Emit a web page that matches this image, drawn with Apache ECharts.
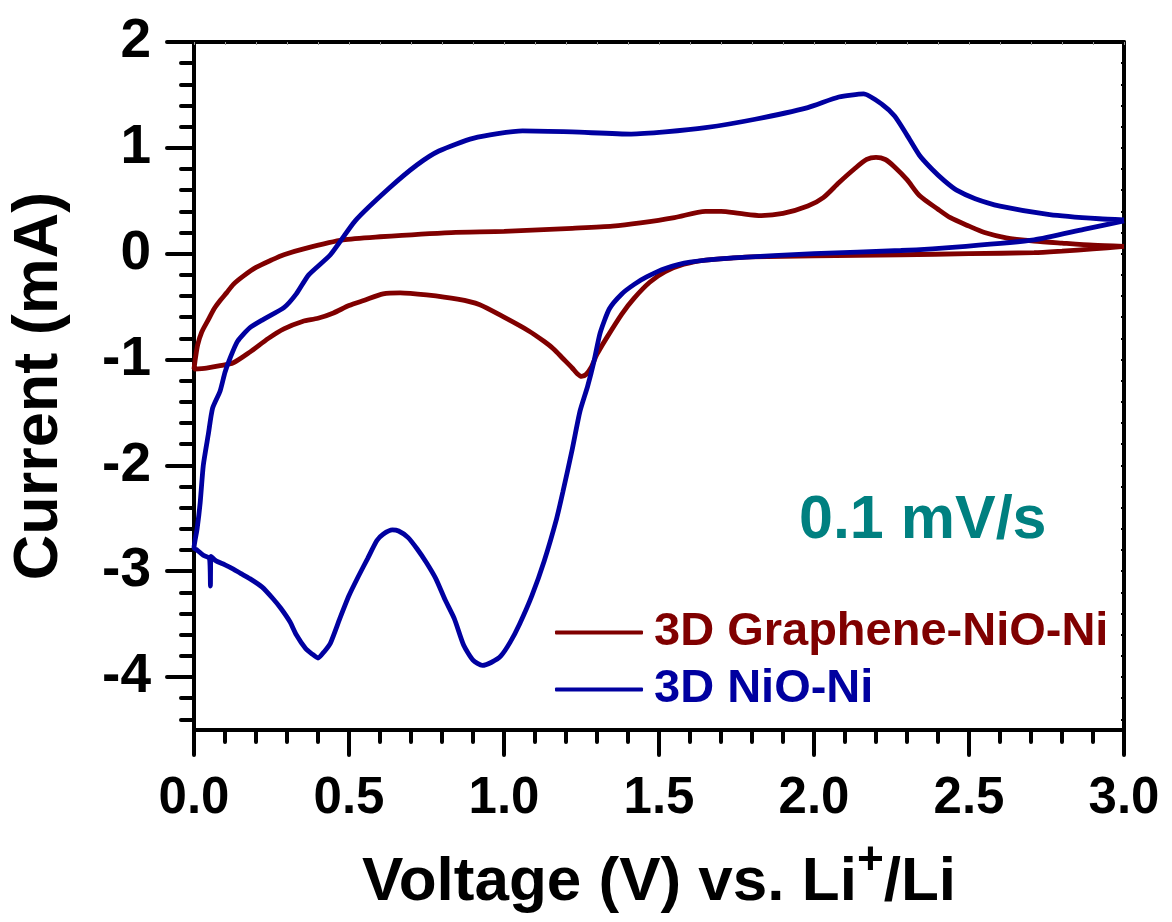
<!DOCTYPE html>
<html>
<head>
<meta charset="utf-8">
<script src="https://cdn.jsdelivr.net/npm/echarts@6/dist/echarts.min.js"></script>
<style>
    html, body { margin: 0; padding: 0; background: #fff; }
    #chart_cv { width: 1172px; height: 922px; }
</style>
</head>
<body>
<div id="chart_cv"></div>
<script>
/* datos: [voltaje (V), corriente (mA)] */
const grapheneCatodico = [
    [3.0, 0.07], [2.9, 0.045], [2.8, 0.025], [2.71, 0.01], [2.5, 0.0], [2.28, -0.01], [2.0, -0.02],
    [1.8, -0.03], [1.74, -0.04], [1.65, -0.06], [1.58, -0.1], [1.52, -0.17], [1.47, -0.27],
    [1.42, -0.42], [1.38, -0.57], [1.33, -0.8], [1.3, -0.95], [1.28, -1.08], [1.265, -1.14],
    [1.25, -1.16], [1.235, -1.13], [1.22, -1.08], [1.19, -0.99], [1.16, -0.9], [1.13, -0.83],
    [1.08, -0.73], [1.0, -0.6], [0.92, -0.48], [0.85, -0.43], [0.75, -0.39], [0.665, -0.37],
    [0.61, -0.38], [0.55, -0.44], [0.5, -0.49], [0.45, -0.56], [0.4, -0.61], [0.35, -0.64],
    [0.29, -0.71], [0.24, -0.8], [0.18, -0.93], [0.127, -1.03], [0.08, -1.06], [0.04, -1.08],
    [0.0, -1.09]
];
const grapheneAnodico = [
    [0.0, -1.09], [0.005, -0.98], [0.012, -0.86], [0.025, -0.74], [0.045, -0.63], [0.065, -0.52],
    [0.085, -0.44], [0.105, -0.37], [0.127, -0.29], [0.16, -0.21], [0.2, -0.13], [0.25, -0.06],
    [0.29, -0.01], [0.36, 0.05], [0.48, 0.13], [0.6, 0.16], [0.83, 0.2], [1.0, 0.21], [1.22, 0.24],
    [1.35, 0.26], [1.44, 0.29], [1.55, 0.34], [1.65, 0.4], [1.7, 0.4], [1.76, 0.38], [1.83, 0.36],
    [1.9, 0.38], [1.98, 0.45], [2.03, 0.53], [2.08, 0.67], [2.13, 0.8], [2.17, 0.89], [2.2, 0.91],
    [2.23, 0.89], [2.26, 0.82], [2.3, 0.7], [2.34, 0.55], [2.4, 0.42], [2.44, 0.34], [2.5, 0.26],
    [2.55, 0.2], [2.62, 0.15], [2.71, 0.12], [2.8, 0.1], [2.9, 0.08], [3.0, 0.07]
];
const nioCatodico = [
    [3.0, 0.31], [2.87, 0.23], [2.71, 0.13], [2.49, 0.07], [2.28, 0.03], [2.0, 0.0], [1.74, -0.04],
    [1.6, -0.08], [1.52, -0.14], [1.46, -0.22], [1.42, -0.29], [1.38, -0.38], [1.34, -0.52],
    [1.31, -0.75], [1.29, -1.02], [1.27, -1.25], [1.245, -1.49], [1.22, -1.85], [1.19, -2.25],
    [1.17, -2.5], [1.13, -2.9], [1.09, -3.23], [1.05, -3.5], [1.02, -3.67], [0.99, -3.8],
    [0.96, -3.86], [0.93, -3.89], [0.9, -3.84], [0.87, -3.7], [0.84, -3.45], [0.81, -3.27],
    [0.78, -3.07], [0.75, -2.92], [0.72, -2.79], [0.69, -2.68], [0.66, -2.62], [0.64, -2.61],
    [0.61, -2.65], [0.59, -2.71], [0.56, -2.88], [0.53, -3.05], [0.5, -3.23], [0.47, -3.45],
    [0.44, -3.68], [0.42, -3.76], [0.4, -3.82], [0.38, -3.78], [0.36, -3.73], [0.33, -3.6],
    [0.31, -3.48], [0.28, -3.35], [0.255, -3.26], [0.22, -3.15], [0.18, -3.07], [0.15, -3.02],
    [0.127, -2.98], [0.1, -2.94], [0.07, -2.9], [0.055, -2.86], [0.053, -3.14], [0.05, -2.88],
    [0.03, -2.85], [0.01, -2.8], [0.0, -2.78]
];
const nioAnodico = [
    [0.0, -2.78], [0.01, -2.6], [0.02, -2.35], [0.03, -2.0], [0.046, -1.71], [0.06, -1.46],
    [0.084, -1.3], [0.1, -1.12], [0.116, -0.99], [0.14, -0.83], [0.18, -0.7], [0.224, -0.62],
    [0.29, -0.51], [0.33, -0.38], [0.37, -0.2], [0.44, -0.01], [0.52, 0.31], [0.63, 0.62],
    [0.72, 0.84], [0.79, 0.97], [0.9, 1.09], [1.06, 1.16], [1.22, 1.15], [1.41, 1.13],
    [1.52, 1.15], [1.65, 1.19], [1.81, 1.27], [1.98, 1.38], [2.08, 1.48], [2.16, 1.51],
    [2.22, 1.41], [2.26, 1.3], [2.3, 1.12], [2.34, 0.93], [2.38, 0.8], [2.42, 0.69],
    [2.46, 0.6], [2.52, 0.52], [2.6, 0.45], [2.76, 0.37], [2.92, 0.33], [3.0, 0.32]
];

const nombres = ["3D Graphene-NiO-Ni", "3D NiO-Ni"];
const colores = ["#800000", "#0000A0"];

/* ticks del eje y: -4.5 a 2 cada 0.1 */
const yTicks = [];
for (let k = -45; k <= 20; k++) yTicks.push((k / 10).toFixed(1));

window.renderChartCv = function () {
    const div = document.getElementById("chart_cv");
    if (!div) return;

    const chart = echarts.init(div);
    const font = "Liberation Sans";
    const negro = "#000";

    const esEntero = (i, v) => Math.round(parseFloat(v) * 10) % 10 === 0;
    const esMenor = (i, v) => {
        const k = Math.round(parseFloat(v) * 10);
        return k % 2 === 0 && k % 10 !== 0;
    };

    const option = {
        animation: false,
        textStyle: { fontFamily: font },
        grid: { left: 194, right: 48, top: 42, bottom: 192, containLabel: false, outerBoundsMode: "none" },
        title: {
            text: "0.1 mV/s",
            left: 794,
            top: 486,
            textStyle: { color: "#008080", fontSize: 61, fontWeight: "bold", fontFamily: font }
        },
        legend: {
            orient: "vertical",
            left: 550,
            top: 604,
            itemWidth: 88,
            itemHeight: 4,
            itemGap: 10,
            icon: "roundRect",
            textStyle: { fontSize: 47, fontWeight: "bold", fontFamily: font, padding: [0, 0, 0, 6] },
            data: [
                { name: nombres[0], textStyle: { color: colores[0] } },
                { name: nombres[1], textStyle: { color: colores[1] } }
            ]
        },
        xAxis: [
            {
                type: "value", position: "bottom", min: 0, max: 3, interval: 0.5,
                axisLine: { onZero: false, lineStyle: { color: negro, width: 4 } },
                axisTick: { length: 25, lineStyle: { color: negro, width: 4, cap: "round" } },
                minorTick: { show: true, splitNumber: 5, length: 12, lineStyle: { color: negro, width: 4, cap: "round" } },
                splitLine: { show: false },
                axisLabel: {
                    formatter: v => v.toFixed(1), color: negro, fontSize: 51, fontWeight: "bold",
                    fontFamily: font, margin: 43
                },
                name: "Voltage (V) vs. Li{sup|+}/Li",
                nameLocation: "middle",
                nameGap: 108,
                nameTextStyle: {
                    color: negro, fontSize: 62, fontWeight: "bold", fontFamily: font,
                    rich: { sup: { fontSize: 46, fontWeight: "bold", fontFamily: font, color: negro, padding: [0, 0, 44, 0] } }
                }
            },
            {
                type: "value", position: "top", min: 0, max: 3, interval: 0.5,
                axisLine: { onZero: false, lineStyle: { color: negro, width: 4 } },
                axisTick: { inside: true, length: 3, lineStyle: { color: "#999", width: 1 } },
                minorTick: { show: true, splitNumber: 5, length: 3, lineStyle: { color: "#999", width: 1 } },
                splitLine: { show: false },
                axisLabel: { show: false }
            }
        ],
        yAxis: [
            {
                type: "value", position: "left", min: -4.5, max: 2,
                axisLine: { show: true, onZero: false, lineStyle: { color: negro, width: 4 } },
                axisTick: { show: false },
                axisLabel: { show: false },
                splitLine: { show: false }
            },
            {
                type: "category", position: "left", data: yTicks, boundaryGap: false,
                axisLine: { show: false, onZero: false },
                axisTick: { interval: esEntero, length: 27, lineStyle: { color: negro, width: 4, cap: "round" } },
                axisLabel: {
                    interval: esEntero, formatter: v => String(Math.round(parseFloat(v))),
                    color: negro, fontSize: 55, fontWeight: "bold", fontFamily: font, margin: 43
                },
                splitLine: { show: false },
                name: "Current (mA)",
                nameLocation: "middle",
                nameGap: 123,
                nameTextStyle: { color: negro, fontSize: 63, fontWeight: "bold", fontFamily: font }
            },
            {
                type: "category", position: "left", data: yTicks, boundaryGap: false,
                axisLine: { show: false, onZero: false },
                axisTick: { interval: esMenor, length: 13, lineStyle: { color: negro, width: 4, cap: "round" } },
                axisLabel: { show: false },
                splitLine: { show: false }
            },
            {
                type: "value", position: "right", min: -4.5, max: 2,
                axisLine: { show: true, onZero: false, lineStyle: { color: negro, width: 4 } },
                axisTick: { inside: true, length: 3, lineStyle: { color: negro, width: 2 } },
                minorTick: { show: true, splitNumber: 5, length: 3, lineStyle: { color: negro, width: 2 } },
                axisLabel: { show: false },
                splitLine: { show: false }
            }
        ],
        series: [
            {
                name: nombres[0], type: "line", xAxisIndex: 0, yAxisIndex: 0,
                data: grapheneCatodico.concat(grapheneAnodico.slice(1)),
                showSymbol: false, symbol: "none", smooth: 0.25,
                lineStyle: { color: colores[0], width: 4.8 }, itemStyle: { color: colores[0] }
            },
            {
                name: nombres[1], type: "line", xAxisIndex: 0, yAxisIndex: 0,
                data: nioCatodico.concat(nioAnodico.slice(1)),
                showSymbol: false, symbol: "none", smooth: 0.2,
                lineStyle: { color: colores[1], width: 4.8 }, itemStyle: { color: colores[1] }
            }
        ]
    };

    chart.setOption(option);
    chart.resize();
};

window.renderChartCv();
</script>
</body>
</html>
